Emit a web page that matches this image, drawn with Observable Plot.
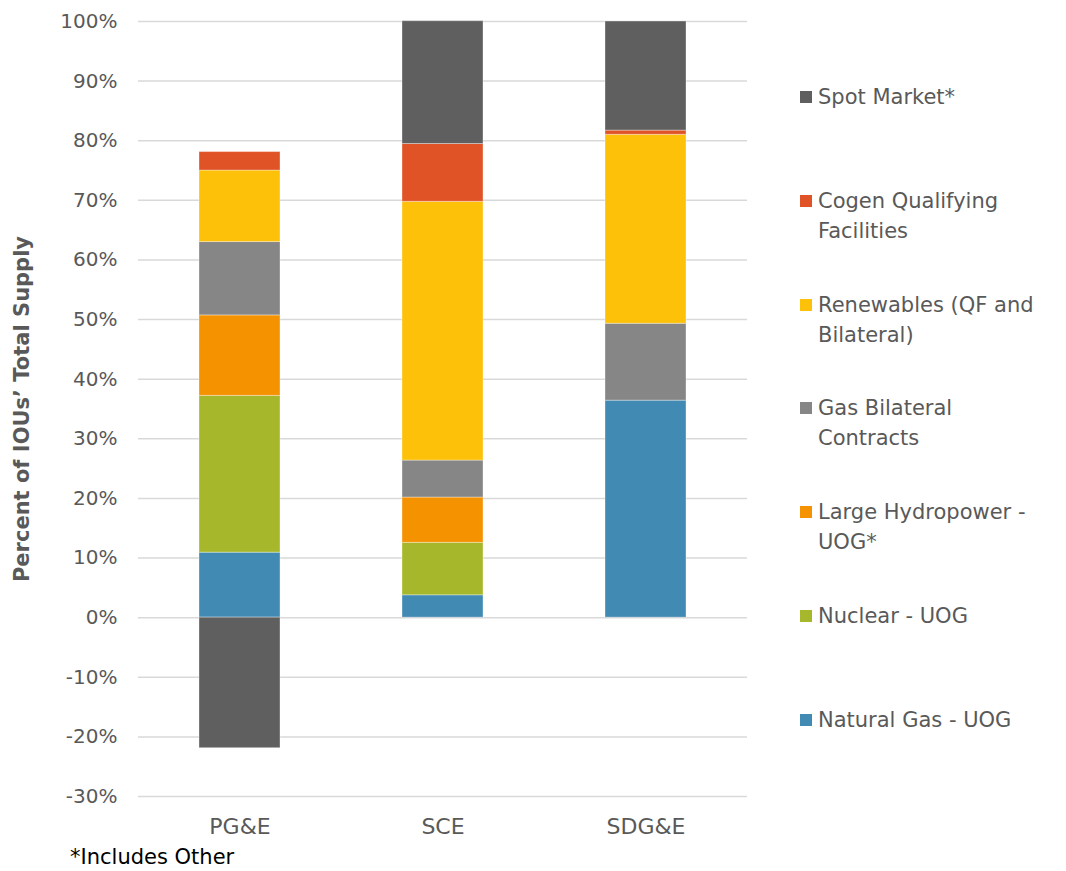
<!DOCTYPE html>
<html>
<head>
<meta charset="utf-8">
<script src="https://cdn.jsdelivr.net/npm/d3@7"></script>
<script src="https://cdn.jsdelivr.net/npm/@observablehq/plot@0.6"></script>
<style>
  body { margin: 0; background: #fff; }
  #wrap { position: relative; width: 1066px; height: 871px; font-family: "DejaVu Sans", sans-serif; }
  #chart { position: absolute; left: 0; top: 0; }
  #ytitle { position: absolute; left: 22px; top: 409px; transform: translate(-50%, -50%) rotate(-90deg); white-space: nowrap; font-weight: bold; font-size: 21px; color: #595959; }
  #legend { position: absolute; left: 800px; top: 82px; color: #595959; font-size: 21px; line-height: 30px; }
  .item { position: relative; height: 103.8px; padding-left: 18px; }
  .sw { position: absolute; left: 0; top: 9px; width: 12px; height: 12px; }
  #foot { position: absolute; left: 70px; top: 845px; font-size: 21px; color: #000; }
</style>
</head>
<body>
<div id="wrap">
  <div id="chart"></div>
  <div id="ytitle">Percent of IOUs’ Total Supply</div>
  <div id="legend"></div>
  <div id="foot">*Includes Other</div>
</div>
<script>
const companies = ["PG&E", "SCE", "SDG&E"];
const sources = ["Natural Gas - UOG", "Nuclear - UOG", "Large Hydropower - UOG*", "Gas Bilateral Contracts", "Renewables (QF and Bilateral)", "Cogen Qualifying Facilities", "Spot Market*"];
const legendLines = [["Natural Gas - UOG"], ["Nuclear - UOG"], ["Large Hydropower -", "UOG*"], ["Gas Bilateral", "Contracts"], ["Renewables (QF and", "Bilateral)"], ["Cogen Qualifying", "Facilities"], ["Spot Market*"]];
const colors = ["#418ab3", "#a7b72b", "#f59200", "#868686", "#fdc10a", "#e05326", "#5f5f5f"];
const pgeValues = [10.9, 26.3, 13.5, 12.3, 12.0, 3.1, -21.9];
const sceValues = [3.75, 8.8, 7.6, 6.2, 43.4, 9.7, 20.6];
const sdgeValues = [36.4, 0, 0, 12.9, 31.7, 0.7, 18.3];
const yTicks = [-30, -20, -10, 0, 10, 20, 30, 40, 50, 60, 70, 80, 90, 100];

const valuesByCompany = [pgeValues, sceValues, sdgeValues];
const data = [];
companies.forEach((c, i) => {
  sources.forEach((s, j) => {
    data.push({company: c, source: s, value: valuesByCompany[i][j] / 100});
  });
});

const plot = Plot.plot({
  width: 1066,
  height: 840,
  marginLeft: 138,
  marginRight: 319,
  marginTop: 21,
  marginBottom: 44,
  style: {fontFamily: "DejaVu Sans, sans-serif", fontSize: "20px", color: "#595959", background: "white"},
  x: {domain: companies, paddingInner: 0.6, paddingOuter: 0.3, label: null},
  y: {domain: [-0.3, 1], label: null},
  color: {domain: sources, range: colors},
  marks: [
    Plot.gridY(yTicks.map(d => d / 100), {stroke: "#d9d9d9", strokeOpacity: 1, strokeWidth: 1.5}),
    Plot.axisY(yTicks.map(d => d / 100), {tickSize: 0, tickPadding: 21, tickFormat: d => Math.round(d * 100) + "%", fill: "#595959", fontSize: 20, label: null}),
    Plot.axisX({tickSize: 0, tickPadding: 22, fill: "#595959", fontSize: 22, label: null}),
    Plot.barY(data, Plot.stackY({x: "company", y: "value", fill: "source", order: sources, stroke: "white", strokeOpacity: 0.35, strokeWidth: 1}))
  ]
});
document.getElementById("chart").appendChild(plot);

const legend = document.getElementById("legend");
for (let j = sources.length - 1; j >= 0; j--) {
  const item = document.createElement("div");
  item.className = "item";
  const sw = document.createElement("div");
  sw.className = "sw";
  sw.style.background = colors[j];
  item.appendChild(sw);
  legendLines[j].forEach(line => {
    const l = document.createElement("div");
    l.textContent = line;
    item.appendChild(l);
  });
  legend.appendChild(item);
}
</script>
</body>
</html>
